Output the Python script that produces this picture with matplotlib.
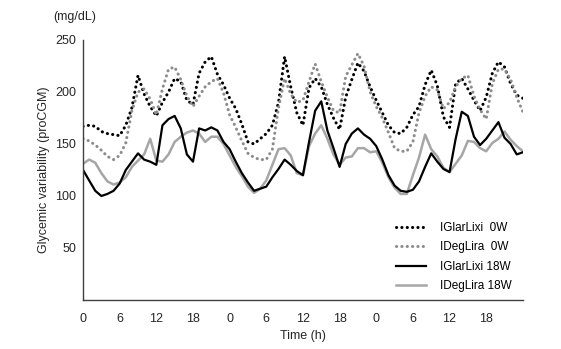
import matplotlib.pyplot as plt
import numpy as np

plt.rcParams['font.family'] = ['Liberation Sans', 'DejaVu Sans']

# hours over three days (0..72)
hours = np.arange(0, 73)
tick_pos = np.arange(0, 72, 6)
tick_labels = ['0', '6', '12', '18'] * 3

# mean glucose (mg/dL)
glar_0w = [167, 168, 167, 162, 160, 159, 158, 168, 185, 216, 198, 186,
           177, 190, 200, 213, 210, 192, 188, 218, 229, 234, 217, 207,
           194, 184, 169, 152, 150, 155, 160, 168, 190, 234, 205, 180,
           168, 204, 213, 205, 188, 175, 164, 195, 212, 228, 220, 205,
           192, 180, 168, 161, 160, 166, 178, 186, 207, 221, 206, 176,
           166, 208, 213, 203, 192, 182, 195, 218, 229, 224, 208, 197, 194]
deg_0w = [155, 153, 149, 144, 138, 135, 139, 151, 182, 200, 203, 193,
          178, 203, 222, 224, 212, 196, 186, 196, 205, 210, 213, 199,
          178, 166, 153, 141, 137, 135, 135, 145, 185, 213, 198, 190,
          192, 210, 227, 210, 195, 182, 180, 215, 226, 237, 225, 200,
          186, 175, 161, 146, 143, 143, 152, 180, 196, 205, 202, 184,
          190, 205, 213, 216, 196, 183, 174, 208, 222, 222, 212, 195, 181]
glar_18w = [125, 115, 105, 100, 102, 105, 112, 125, 133, 141, 135, 133,
            130, 168, 174, 177, 165, 140, 133, 165, 163, 166, 163, 152,
            145, 133, 122, 113, 105, 107, 109, 118, 126, 135, 130, 124,
            120, 152, 182, 191, 163, 146, 128, 150, 160, 165, 159, 155,
            148, 135, 120, 110, 105, 104, 106, 114, 128, 141, 133, 126,
            123, 155, 181, 177, 157, 149, 155, 163, 171, 156, 150, 140, 142]
deg_18w = [131, 135, 132, 122, 114, 111, 113, 118, 128, 134, 140, 155,
           134, 133, 140, 152, 157, 161, 163, 160, 152, 157, 157, 150,
           139, 128, 119, 109, 103, 107, 115, 130, 145, 146, 139, 122,
           120, 148, 160, 168, 155, 140, 130, 137, 138, 146, 146, 142,
           143, 132, 118, 108, 102, 102, 120, 137, 159, 145, 138, 127,
           123, 131, 139, 153, 152, 146, 143, 151, 155, 162, 154, 148, 143]

fig = plt.figure(figsize=(5.61, 3.49), dpi=100)
ax = fig.add_axes([0.148, 0.1404, 0.784, 0.745])

dot = (0, (0.05, 1.7))
ax.plot(hours, glar_0w, color='black', lw=2.2, linestyle=dot,
        dash_capstyle='round', label='IGlarLixi  0W')
ax.plot(hours, deg_0w, color='#8c8c8c', lw=2.2, linestyle=dot,
        dash_capstyle='round', label='IDegLira  0W')
ax.plot(hours, deg_18w, color='#a6a6a6', lw=1.8, label='IDegLira 18W')
ax.plot(hours, glar_18w, color='black', lw=1.6, label='IGlarLixi 18W')

ax.set_xlim(0, 72)
ax.set_ylim(0, 250)
ax.set_xticks(tick_pos)
ax.set_xticklabels(tick_labels)
ax.set_yticks([50, 100, 150, 200, 250])
ax.tick_params(length=0, labelsize=9, colors='#262626')
ax.tick_params(axis='x', pad=9)
ax.tick_params(axis='y', pad=5)

for s in ['top', 'right']:
    ax.spines[s].set_visible(False)
for s in ['left', 'bottom']:
    ax.spines[s].set_color('#404040')
    ax.spines[s].set_linewidth(1.0)

ax.set_ylabel('Glycemic variability (proCGM)', fontsize=9, color='#262626')
ax.set_xlabel('Time (h)', fontsize=9, color='#262626', labelpad=4)
fig.text(0.134, 0.95, '(mg/dL)', fontsize=9, color='#262626',
         ha='center', va='center')

handles, labels = ax.get_legend_handles_labels()
order = [0, 1, 3, 2]
ax.legend([handles[i] for i in order], [labels[i] for i in order],
          loc='lower right', bbox_to_anchor=(1.0, -0.01), frameon=False,
          fontsize=8.5, handlelength=2.6, labelspacing=0.62,
          handletextpad=1.2)

fig.savefig('out.png', dpi=100)
